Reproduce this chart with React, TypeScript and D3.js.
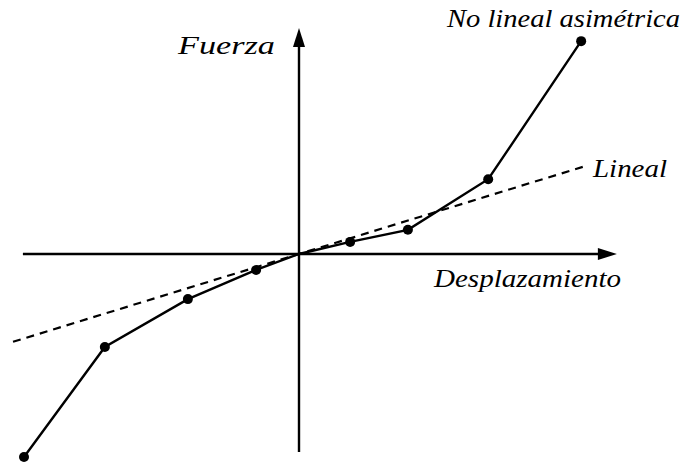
import React from "react";
import * as d3 from "d3";

const W = 688;
const H = 463;

// Nonlinear asymmetric series (displacement, force)
const dispValues = [-5.0, -3.53, -2.02, -0.78, 0, 0.93, 1.98, 3.44, 5.13];
const forceValues = [-3.69, -1.69, -0.82, -0.29, 0, 0.22, 0.44, 1.36, 3.87];

// Linear reference line
const linearX = [-5.2, 5.2];
const linearSlope = 0.307;

// Axis extents
const xAxisExtent = [-5.02, 5.78];
const yAxisExtent = [-3.6, 4.11];

const labels = {
  x: "Desplazamiento",
  y: "Fuerza",
  nonlinear: "No lineal asimétrica",
  linear: "Lineal",
};

export default function App() {
  const x = d3.scaleLinear().domain([0, 1]).range([299, 354]);
  const y = d3.scaleLinear().domain([0, 1]).range([254, 199]);

  const pts: [number, number][] = dispValues.map((d, i) => [d, forceValues[i]]);
  const line = d3
    .line<[number, number]>()
    .x((d) => x(d[0]))
    .y((d) => y(d[1]));

  const linPts: [number, number][] = linearX.map((d) => [d, d * linearSlope]);

  const xa0 = x(xAxisExtent[0]);
  const xa1 = x(xAxisExtent[1]);
  const ya0 = y(yAxisExtent[0]);
  const ya1 = y(yAxisExtent[1]);
  const ox = x(0);
  const oy = y(0);
  const ah = 19;
  const aw = 6;

  const font = "'Liberation Serif', 'DejaVu Serif', serif";

  return (
    <svg
      width={W}
      height={H}
      style={{ position: "absolute", left: 0, top: 0, background: "#fff" }}
    >
      {/* axes */}
      <line x1={xa0} y1={oy} x2={xa1 - ah + 2} y2={oy} stroke="#000" strokeWidth={2.4} />
      <path
        d={`M${xa1},${oy} L${xa1 - ah},${oy - aw} L${xa1 - ah},${oy + aw} Z`}
        fill="#000"
      />
      <line x1={ox} y1={ya0} x2={ox} y2={ya1 + ah - 2} stroke="#000" strokeWidth={2.4} />
      <path
        d={`M${ox},${ya1} L${ox - aw},${ya1 + ah} L${ox + aw},${ya1 + ah} Z`}
        fill="#000"
      />

      {/* linear dashed */}
      <path
        d={line(linPts) || ""}
        fill="none"
        stroke="#000"
        strokeWidth={2.2}
        strokeDasharray="8,6"
      />

      {/* nonlinear */}
      <path d={line(pts) || ""} fill="none" stroke="#000" strokeWidth={2.4} />
      {pts.map((p, i) =>
        i === 4 ? null : (
          <circle key={i} cx={x(p[0])} cy={y(p[1])} r={5} fill="#000" />
        )
      )}

      {/* labels */}
      <g fontFamily={font} fontStyle="italic" fontSize={26} fill="#000">
        <text x={178} y={54} textLength={97} lengthAdjust="spacingAndGlyphs">
          {labels.y}
        </text>
        <text x={447} y={27} textLength={233} lengthAdjust="spacingAndGlyphs">
          {labels.nonlinear}
        </text>
        <text x={593} y={177} textLength={74} lengthAdjust="spacingAndGlyphs">
          {labels.linear}
        </text>
        <text x={434} y={287} textLength={187} lengthAdjust="spacingAndGlyphs">
          {labels.x}
        </text>
      </g>
    </svg>
  );
}
